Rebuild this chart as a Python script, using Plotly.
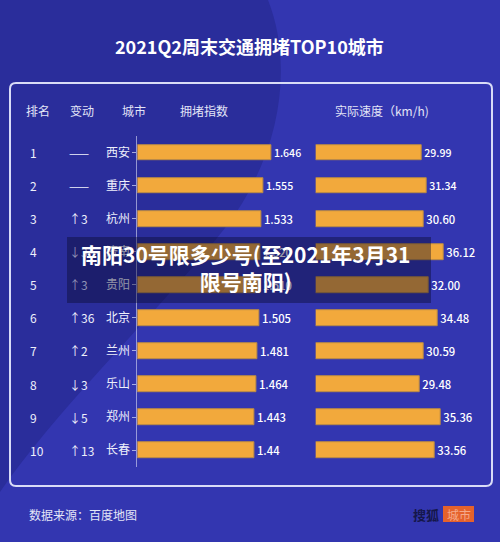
import plotly.graph_objects as go

# ---------------- data ----------------
ranks = ["1", "2", "3", "4", "5", "6", "7", "8", "9", "10"]
changes = ["——", "——", "↑3", "↓3", "↑3", "↑36", "↑2", "↓3", "↓5", "↑13"]
cities = ["西安", "重庆", "杭州", "济南", "贵阳", "北京", "兰州", "乐山", "郑州", "长春"]
congestion_index = [1.646, 1.555, 1.533, 1.52, 1.51, 1.505, 1.481, 1.464, 1.443, 1.44]
actual_speed = [29.99, 31.34, 30.60, 36.12, 32.00, 34.48, 30.59, 29.48, 35.36, 33.56]
index_labels = ["1.646", "1.555", "1.533", "1.520", "1.510", "1.505", "1.481", "1.464", "1.443", "1.44"]
speed_labels = [f"{v:.2f}" for v in actual_speed]

headers = ["排名", "变动", "城市", "拥堵指数", "实际速度（km/h)"]

W, H = 500, 542
FONT = "Noto Sans CJK SC"
ORANGE = "#f2a93c"
BG_DARK = "#2a2d9b"
BG_LIGHT = "#3336b0"


def px(x):
    return x / W


def py(y):
    return 1 - y / H


def pt(x, y):
    return f"{px(x):.5f},{py(y):.5f}"


fig = go.Figure()

fig.add_trace(go.Bar(
    x=congestion_index, y=cities, orientation="h",
    xaxis="x", yaxis="y", width=0.48,
    marker=dict(color=ORANGE, line=dict(color="#b98a45", width=1)),
    text=index_labels, textposition="outside", cliponaxis=False,
    textfont=dict(color="white", size=12, family=FONT, weight=500),
    hoverinfo="skip",
))
fig.add_trace(go.Bar(
    x=actual_speed, y=cities, orientation="h",
    xaxis="x2", yaxis="y2", width=0.48,
    marker=dict(color=ORANGE, line=dict(color="#b98a45", width=1)),
    text=speed_labels, textposition="outside", cliponaxis=False,
    textfont=dict(color="white", size=12, family=FONT, weight=500),
    hoverinfo="skip",
))

y_dom = [py(466.6), py(136.2)]
left_zero, left_scale = 137.4, 81.2
right_zero, right_scale = 315.7, 3.535

# Background shapes
shapes = []
dark_path = ("M " + pt(0, 0) + " L " + pt(268, 0) +
             " C " + pt(292, 60) + " " + pt(285, 150) + " " + pt(225, 228) +
             " C " + pt(165, 305) + " " + pt(60, 405) + " " + pt(0, 492) + " Z")
shapes.append(dict(type="path", path=dark_path, xref="paper", yref="paper",
                   fillcolor=BG_DARK, line=dict(width=0), layer="below"))

# rounded panel
x0, y0, x1, y1, r = 10, 83, 492, 486, 6
panel = ("M " + pt(x0 + r, y0) + " L " + pt(x1 - r, y0) + " Q " + pt(x1, y0) + " " + pt(x1, y0 + r) +
         " L " + pt(x1, y1 - r) + " Q " + pt(x1, y1) + " " + pt(x1 - r, y1) +
         " L " + pt(x0 + r, y1) + " Q " + pt(x0, y1) + " " + pt(x0, y1 - r) +
         " L " + pt(x0, y0 + r) + " Q " + pt(x0, y0) + " " + pt(x0 + r, y0) + " Z")
shapes.append(dict(type="path", path=panel, xref="paper", yref="paper",
                   line=dict(color="#d9dcf7", width=2), layer="below"))

# overlay box
shapes.append(dict(type="rect", xref="paper", yref="paper",
                   x0=px(67), x1=px(431), y0=py(303), y1=py(237),
                   fillcolor="rgba(8,8,40,0.40)", line=dict(width=0), layer="above"))

# footer logo box
shapes.append(dict(type="rect", xref="paper", yref="paper",
                   x0=px(443), x1=px(474), y0=py(522), y1=py(506),
                   fillcolor="#e5622c", line=dict(width=0), layer="above"))

annotations = []
annotations.append(dict(text="<b>2021Q2周末交通拥堵TOP10城市</b>", x=px(249), y=py(46),
                        xref="paper", yref="paper", showarrow=False,
                        font=dict(size=18, color="white", family=FONT),
                        xanchor="center", yanchor="middle"))

header_x = [24, 68, 120, 178, 333]
for hx, ht in zip(header_x, headers):
    annotations.append(dict(text=ht, x=px(hx), y=py(110), xref="paper", yref="paper",
                            showarrow=False, xanchor="left", yanchor="middle",
                            font=dict(size=12, color="#e3e5f7", family=FONT)))

for i, (rk, ch, c) in enumerate(zip(ranks, changes, cities)):
    annotations.append(dict(text=rk, x=px(28), y=c, xref="paper", yref="y",
                            showarrow=False, xanchor="left", yanchor="middle",
                            font=dict(size=12, color="#eef0fb", family=FONT)))
    dim = i in (3, 4)
    annotations.append(dict(text=ch, x=px(67), y=c, xref="paper", yref="y",
                            showarrow=False, xanchor="left", yanchor="middle",
                            font=dict(size=12, color="#8f91b5" if dim else "#eef0fb", family=FONT)))

annotations.append(dict(text="<b>南阳30号限多少号(至2021年3月31<br>限号南阳)</b>",
                        x=px(245), y=py(267), xref="paper", yref="paper",
                        showarrow=False, xanchor="center", yanchor="middle", align="center",
                        font=dict(size=21, color="white", family=FONT)))

annotations.append(dict(text="数据来源：百度地图", x=px(27), y=py(514), xref="paper", yref="paper",
                        showarrow=False, xanchor="left", yanchor="middle",
                        font=dict(size=12, color="#e3e5f7", family=FONT)))
annotations.append(dict(text="<b>搜狐</b>", x=px(441), y=py(514), xref="paper", yref="paper",
                        showarrow=False, xanchor="right", yanchor="middle",
                        font=dict(size=13, color="#15174a", family=FONT)))
annotations.append(dict(text="城市", x=px(458.5), y=py(514), xref="paper", yref="paper",
                        showarrow=False, xanchor="center", yanchor="middle",
                        font=dict(size=12, color="#f5a98a", family=FONT)))

fig.update_layout(
    width=W, height=H,
    margin=dict(l=0, r=0, t=0, b=0),
    paper_bgcolor=BG_LIGHT, plot_bgcolor="rgba(0,0,0,0)",
    showlegend=False, bargap=0,
    font=dict(family=FONT, color="white"),
    xaxis=dict(domain=[px(left_zero), px(left_zero + 2.0 * left_scale)], range=[0, 2.0],
               visible=False, fixedrange=True),
    xaxis2=dict(domain=[px(right_zero), px(right_zero + 46.0 * right_scale)], range=[0, 46.0],
                visible=False, fixedrange=True),
    yaxis=dict(domain=y_dom, anchor="x", type="category", autorange="reversed",
               showline=True, linecolor="rgba(220,222,245,0.6)", linewidth=1,
               ticks="outside", ticklen=4, tickcolor="rgba(220,222,245,0.7)",
               tickfont=dict(size=12, color="#eef0fb", family=FONT),
               showgrid=False, zeroline=False, fixedrange=True),
    yaxis2=dict(domain=y_dom, anchor="x2", type="category", autorange="reversed",
                showticklabels=False, showline=False, showgrid=False, zeroline=False,
                fixedrange=True),
    shapes=shapes,
    annotations=annotations,
)

fig.write_html(
    "out.html",
    config={"displayModeBar": False},
    post_script="document.body.style.margin='0';document.body.style.padding='0';document.body.style.overflow='hidden';",
)
